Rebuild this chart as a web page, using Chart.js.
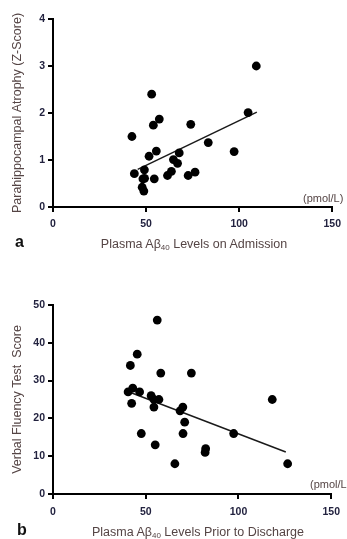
<!DOCTYPE html>
<html>
<head>
<meta charset="utf-8">
<script src="https://cdn.jsdelivr.net/npm/chart.js@4"></script>
<style>
  body { margin: 0; background: #fff; overflow: hidden; }
  #wrap { position: relative; width: 347px; height: 539px; overflow: hidden;
          font-family: "Liberation Sans", Arial, sans-serif; }
  canvas { position: absolute; left: 0; }
  #chartA { top: 0; }
  #chartB { top: 270px; }
  .lbl { position: absolute; white-space: nowrap; }
  .panel { font-weight: bold; font-size: 16px; line-height: 16px; color: #111; }
  .xtitle { font-size: 12.5px; line-height: 14px; color: #554545; transform: translate(-50%, -50%); }
  .unit { font-size: 11px; line-height: 13px; color: #554545; }
  sub { font-size: 8px; line-height: 0; vertical-align: -2px; }
</style>
</head>
<body>
<div id="wrap">
  <canvas id="chartA" width="347" height="270"></canvas>
  <canvas id="chartB" width="347" height="269"></canvas>

  <div class="lbl unit" style="left:303px; top:192px;">(pmol/L)</div>
  <div class="lbl panel" style="left:15px; top:234px;">a</div>
  <div class="lbl xtitle" style="left:194px; top:244px;">Plasma Aβ<sub>40</sub> Levels on Admission</div>

  <div class="lbl unit" style="left:310px; top:478px;">(pmol/L)</div>
  <div class="lbl panel" style="left:17px; top:522px;">b</div>
  <div class="lbl xtitle" style="left:198px; top:532px;">Plasma Aβ<sub>40</sub> Levels Prior to Discharge</div>
</div>

<script>
// panel a: admission
const admissionLevels = [42.4, 43.7, 49.1, 48.3, 49.2, 47.9, 48.8, 53.0, 53.9, 57.1, 51.6, 55.5, 54.4,
                         61.5, 63.6, 64.7, 67.8, 66.9, 74.0, 72.6, 76.3, 83.4, 97.3, 104.8, 109.2];
const atrophyScores   = [1.50, 0.71, 0.79, 0.60, 0.61, 0.42, 0.34, 2.40, 1.74, 1.87, 1.08, 1.19, 0.60,
                         0.67, 0.76, 1.01, 1.15, 0.93, 1.76, 0.67, 0.74, 1.37, 1.18, 2.01, 3.00];
const admissionFitX = [45.5, 109.5];
const admissionFitY = [0.80, 2.02];

// panel b: prior to discharge
const dischargeLevels = [56.2, 45.4, 41.7, 58.1, 74.6, 40.5, 43.0, 46.7, 42.4, 52.9, 54.4, 57.1, 54.4,
                         68.5, 70.0, 71.0, 70.1, 47.6, 55.1, 65.7, 82.3, 82.0, 97.4, 118.2, 126.5];
const fluencyScores   = [46, 37, 34, 32, 32, 27, 28, 27, 24, 26, 25, 25, 23,
                         22, 23, 19, 16, 16, 13, 8, 12, 11, 16, 25, 8];
const dischargeFitX = [42.5, 125.5];
const dischargeFitY = [26.7, 11.1];

// ticks
const xTicks = [0, 50, 100, 150];
const atrophyTicks = [0, 1, 2, 3, 4];
const fluencyTicks = [0, 10, 20, 30, 40, 50];

const FONT = '"Liberation Sans", Arial, sans-serif';
const TICK_COLOR = '#22223f';
const TITLE_COLOR = '#554545';

function toPoints(xs, ys) {
  return xs.map((x, i) => ({ x: x, y: ys[i] }));
}

function makeChart(id, xs, ys, fitX, fitY, yTicks, yTitle, box) {
  const axisGrid = { drawOnChartArea: false, drawTicks: true, tickLength: 5, color: '#000', lineWidth: 2 };
  const tickFont = { family: FONT, size: 10.5, weight: 'bold' };

  return new Chart(document.getElementById(id), {
    type: 'scatter',
    data: {
      datasets: [
        {
          data: toPoints(xs, ys),
          backgroundColor: '#000',
          borderWidth: 0,
          pointRadius: 4.4
        },
        {
          data: toPoints(fitX, fitY),
          showLine: true,
          borderColor: '#1a1a1a',
          borderWidth: 1.5,
          pointRadius: 0
        }
      ]
    },
    options: {
      responsive: false,
      devicePixelRatio: 1,
      animation: false,
      layout: { padding: { top: box.top, right: 10, bottom: 0, left: 0 } },
      plugins: { legend: { display: false }, tooltip: { enabled: false } },
      scales: {
        x: {
          type: 'linear',
          min: xTicks[0],
          max: xTicks[xTicks.length - 1],
          afterBuildTicks: s => { s.ticks = xTicks.map(v => ({ value: v })); },
          afterFit: s => { s.height = box.xHeight; },
          border: { color: '#000', width: 2 },
          grid: axisGrid,
          ticks: { padding: box.xPad, color: TICK_COLOR, font: tickFont, maxRotation: 0 }
        },
        y: {
          type: 'linear',
          min: yTicks[0],
          max: yTicks[yTicks.length - 1],
          afterBuildTicks: s => { s.ticks = yTicks.map(v => ({ value: v })); },
          afterFit: s => { s.width = 53; },
          border: { color: '#000', width: 2 },
          grid: axisGrid,
          ticks: { padding: 3, color: TICK_COLOR, font: tickFont },
          title: {
            display: true,
            text: yTitle,
            color: TITLE_COLOR,
            font: { family: FONT, size: 12.5 },
            padding: { top: 10, bottom: 0 }
          }
        }
      }
    }
  });
}

makeChart('chartA', admissionLevels, atrophyScores, admissionFitX, admissionFitY, atrophyTicks,
  'Parahippocampal Atrophy (Z-Score)', { top: 19, xHeight: 63, xPad: 6 });

makeChart('chartB', dischargeLevels, fluencyScores, dischargeFitX, dischargeFitY, fluencyTicks,
  'Verbal Fluency Test  Score', { top: 35, xHeight: 45, xPad: 7 });
</script>
</body>
</html>
